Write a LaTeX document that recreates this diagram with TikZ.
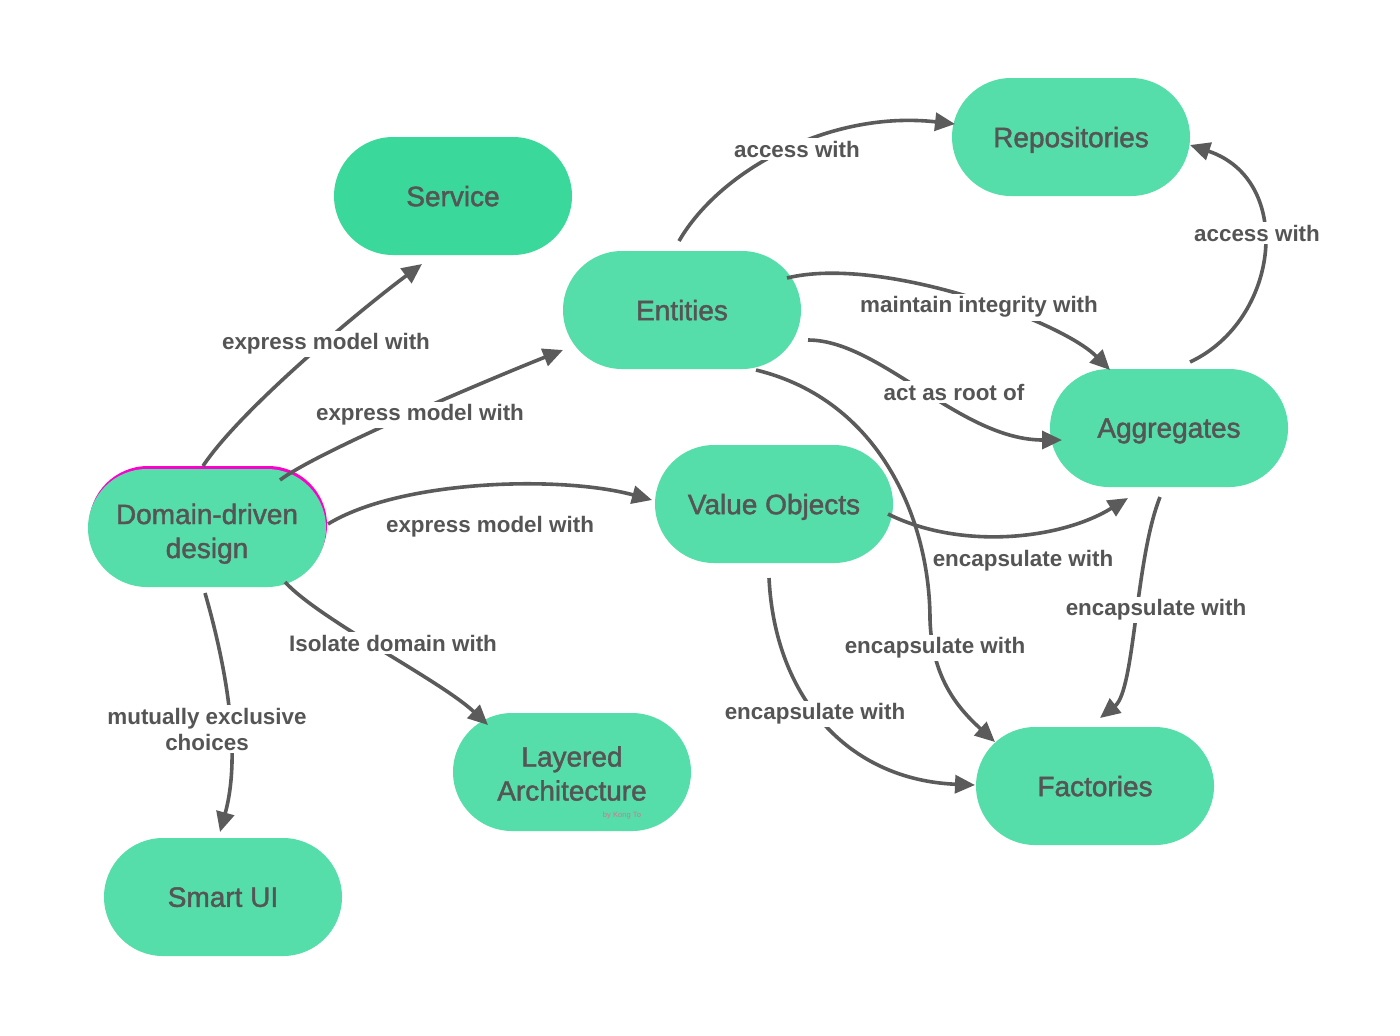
\documentclass[tikz,border=0pt]{standalone}
\usepackage{fontspec}
\setmainfont{Liberation Sans}
\newfontfamily\nodefont{Liberation Sans}[FakeBold=1.6]
\usetikzlibrary{arrows.meta}
\definecolor{nodegreen}{HTML}{55DDAA}
\definecolor{servgreen}{HTML}{3AD89B}
\definecolor{txtgray}{HTML}{555555}
\definecolor{arrowgray}{HTML}{5B5B5B}
\definecolor{ddmagenta}{HTML}{FF00CC}
\definecolor{signpink}{HTML}{E0708A}
\begin{document}
\begin{tikzpicture}[x=0.5pt,y=-0.5pt,
  ent/.style={fill=nodegreen, rounded corners=29.5pt, minimum width=119pt, minimum height=59pt,
    inner sep=0pt, text=txtgray, font=\nodefont\fontsize{14}{17}\selectfont, align=center, text depth=0pt},
  lbl/.style={fill=white, text=txtgray, font=\bfseries\fontsize{11.2}{13}\selectfont,
    inner sep=1.5pt, align=center},
  conn/.style={draw=arrowgray, line width=1.8pt, -{Triangle[length=10pt,width=9pt]}},
]
\useasboundingbox (0,0) rectangle (1400,1035);

% nodes
\node[ent, fill=ddmagenta, text=ddmagenta] (ddm) at (208,525) {\rule{0pt}{13pt}Domain-driven\\design};
\node[ent] (dd) at (207,528) {\rule{0pt}{13pt}Domain-driven\\design};
\node[ent, fill=servgreen] (serv) at (453,196) {Service};
\node[ent] (repo) at (1071,137) {Repositories};
\node[ent] (ent) at (682,310) {Entities};
\node[ent] (agg) at (1169,428) {Aggregates};
\node[ent] (vo) at (774,504) {Value Objects};
\node[ent] (lay) at (572,772) {\rule{0pt}{11.5pt}Layered\\Architecture};
\node[ent] (fac) at (1095,786) {Factories};
\node[ent] (sui) at (223,897) {Smart UI};
\node[text=signpink, font=\fontsize{3.8}{4}\selectfont, inner sep=0pt] (sign) at (622,816) {by Kong To};

% connectors
\draw[conn] ([shift={(-4,-62)}]dd.center) .. controls (240,410) and (360,310) .. ([shift={(-31,68)}]serv.center);
\draw[conn] ([shift={(73,-48)}]dd.center) .. controls (320,450) and (500,375) .. ([shift={(-119,40)}]ent.center);
\draw[conn] ([shift={(121,-4)}]dd.center) .. controls (400,480) and (560,475) .. ([shift={(-122,-4)}]vo.center);
\draw[conn] ([shift={(78,54)}]dd.center) .. controls (320,620) and (440,680) .. ([shift={(-84,-47)}]lay.center);
\draw[conn] ([shift={(-2,65)}]dd.center) .. controls (230,680) and (240,760) .. ([shift={(-3,-65)}]sui.center);
\draw[conn] ([shift={(-3,-69)}]ent.center) .. controls (720,170) and (830,110) .. ([shift={(-116,-13)}]repo.center);
\draw[conn] ([shift={(105,-32)}]ent.center) .. controls (880,255) and (1060,320) .. ([shift={(-59,-58)}]agg.center);
\draw[conn] ([shift={(126,30)}]ent.center) .. controls (880,340) and (960,440) .. ([shift={(-107,12)}]agg.center);
\draw[conn] ([shift={(74,60)}]ent.center) .. controls (880,400) and (930,520) .. (930,620)
   .. controls (932,680) and (960,710) .. ([shift={(-100,-44)}]fac.center);
\draw[conn] ([shift={(21,-66)}]agg.center) .. controls (1280,320) and (1295,180) .. ([shift={(119,8)}]repo.center);
\draw[conn] ([shift={(114,10)}]vo.center) .. controls (960,550) and (1060,540) .. ([shift={(-41,70)}]agg.center);
\draw[conn] ([shift={(-9,69)}]agg.center) .. controls (1135,560) and (1135,690) .. ([shift={(5,-68)}]fac.center);
\draw[conn] ([shift={(-5,74)}]vo.center) .. controls (775,700) and (850,780) .. ([shift={(-120,-1)}]fac.center);

% labels
\node[lbl] (l1) at (326,344) {express model with};
\node[lbl] (l2) at (420,415) {express model with};
\node[lbl] (l3) at (490,527) {express model with};
\node[lbl] (l4) at (393,643) {Isolate domain with};
\node[lbl] (l5) at (207,729) {mutually exclusive\\choices};
\node[lbl] (l6) at (797,149) {access with};
\node[lbl] (l7) at (979,307) {maintain integrity with};
\node[lbl] (l8) at (954,392) {act as root of};
\node[lbl] (l9) at (935,648) {encapsulate with};
\node[lbl] (l10) at (1257,233) {access with};
\node[lbl] (l11) at (1023,561) {encapsulate with};
\node[lbl] (l12) at (1156,610) {encapsulate with};
\node[lbl] (l13) at (815,714) {encapsulate with};
\end{tikzpicture}
\end{document}
